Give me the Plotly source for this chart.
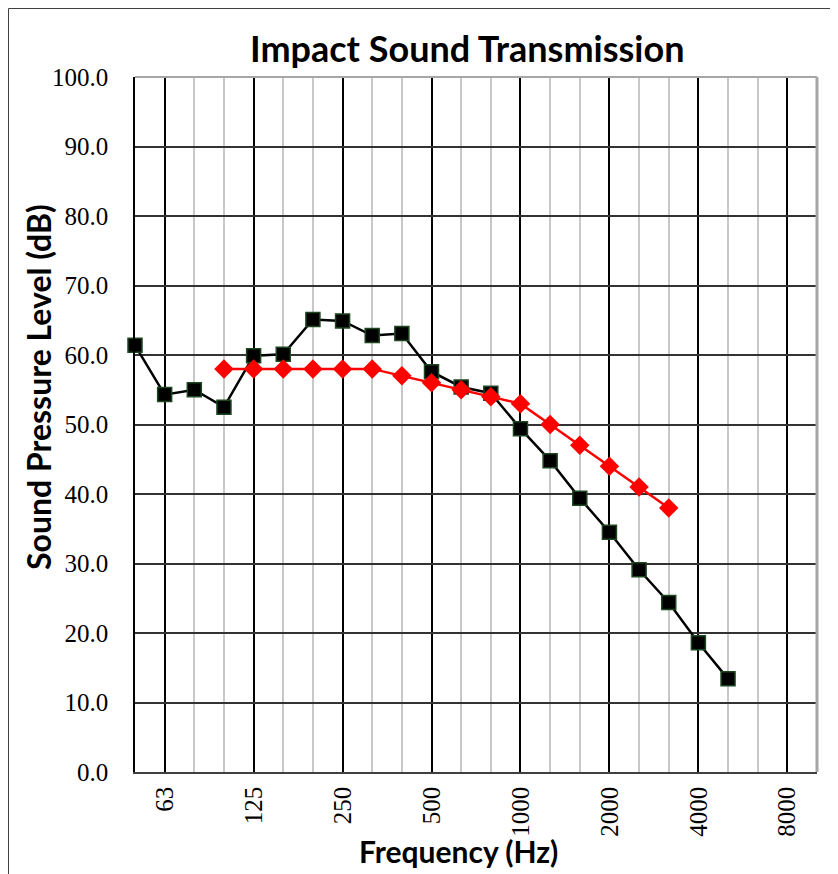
import plotly.graph_objects as go

# One-third octave band centre frequencies (category axis)
bands = ["50", "63", "80", "100", "125", "160", "200", "250", "315", "400",
         "500", "630", "800", "1000", "1250", "1600", "2000", "2500", "3150",
         "4000", "5000", "6300", "8000", "10000"]
octave_labels = ["63", "125", "250", "500", "1000", "2000", "4000", "8000"]

# Measured impact sound pressure level
measured_freq = ["50", "63", "80", "100", "125", "160", "200", "250", "315",
                 "400", "500", "630", "800", "1000", "1250", "1600", "2000",
                 "2500", "3150", "4000", "5000"]
measured_db = [61.4, 54.3, 55.0, 52.5, 59.9, 60.1, 65.1, 64.9, 62.8, 63.1,
               57.6, 55.4, 54.5, 49.4, 44.8, 39.4, 34.5, 29.1, 24.4, 18.6, 13.4]

# Shifted reference curve
ref_freq = ["100", "125", "160", "200", "250", "315", "400", "500", "630",
            "800", "1000", "1250", "1600", "2000", "2500", "3150"]
ref_db = [58, 58, 58, 58, 58, 58, 57, 56, 55, 54, 53, 50, 47, 44, 41, 38]

idx = {b: i for i, b in enumerate(bands)}

# page body has an 8px margin: work in figure pixels (screen - 8)
OFF = 8
W, H = 830, 866
L, R, T, B = 135 - OFF, 817 - OFF, 77 - OFF, 772 - OFF
pw, ph = R - L, B - T


def px(x):
    return (x - OFF - L) / pw


def py(y):
    return (B - (y - OFF)) / ph


fig = go.Figure()
fig.add_trace(go.Scatter(
    x=[idx[f] for f in measured_freq], y=measured_db, mode="lines+markers",
    line=dict(color="black", width=2.5),
    marker=dict(symbol="square", size=14, color="black",
                line=dict(color="#1e4620", width=1.5)),
    cliponaxis=False, showlegend=False, name="Measured"))
fig.add_trace(go.Scatter(
    x=[idx[f] for f in ref_freq], y=ref_db, mode="lines+markers",
    line=dict(color="#ff0000", width=2.5),
    marker=dict(symbol="diamond", size=15, color="#ff0000"),
    cliponaxis=False, showlegend=False, name="Reference"))

title_font = dict(family="Lato", size=36, color="black", weight="bold")
ytitle_font = dict(family="Lato", size=32, color="black", weight="bold")
xtitle_font = dict(family="Lato", size=30, color="black", weight="bold")
tick_font = dict(family="Liberation Serif", size=25, color="black")

fig.update_layout(
    width=W, height=H,
    margin=dict(l=L, r=W - R, t=T, b=H - B, pad=0),
    paper_bgcolor="white", plot_bgcolor="white",
    xaxis=dict(
        range=[0, len(bands) - 1],
        tickmode="array",
        tickvals=[idx[o] for o in octave_labels],
        ticktext=octave_labels,
        tickangle=-90, tickfont=tick_font, ticks="", ticklabelstandoff=3,
        showgrid=True, gridcolor="black", gridwidth=2,
        minor=dict(tickmode="linear", tick0=0, dtick=1, showgrid=True,
                   gridcolor="#c8c8c8", gridwidth=1.5),
        showline=True, linecolor="#404040", linewidth=1.5,
        zeroline=False, fixedrange=True,
    ),
    yaxis=dict(
        range=[0, 100], tickmode="linear", tick0=0, dtick=10,
        tickformat=".1f", tickfont=tick_font, ticks="", ticklabelstandoff=20,
        showgrid=True, gridcolor="#333333", gridwidth=1.5,
        showline=True, linecolor="black", linewidth=1.5,
        zeroline=False, fixedrange=True,
    ),
    annotations=[
        dict(text="Impact Sound Transmission", xref="paper", yref="paper",
             x=px(467), y=py(48), xanchor="center", yanchor="middle",
             showarrow=False, font=title_font),
        dict(text="Sound Pressure Level (dB)", xref="paper", yref="paper",
             x=px(38), y=py(387), xanchor="center", yanchor="middle",
             textangle=-90, showarrow=False, font=ytitle_font),
        dict(text="Frequency (Hz)", xref="paper", yref="paper",
             x=px(458), y=py(851), xanchor="center", yanchor="middle",
             showarrow=False, font=xtitle_font),
    ],
    shapes=[
        # plot area border
        dict(type="line", xref="paper", yref="paper", x0=0, x1=1, y0=1, y1=1,
             line=dict(color="#a6a6a6", width=2), layer="above"),
        dict(type="line", xref="paper", yref="paper", x0=1, x1=1, y0=0, y1=1,
             line=dict(color="#a6a6a6", width=3), layer="above"),
        # chart outer border
        dict(type="line", xref="paper", yref="paper", x0=px(8.5), x1=px(8.5),
             y0=py(8.5), y1=py(H + 20), line=dict(color="#404040", width=1)),
        dict(type="line", xref="paper", yref="paper", x0=px(8.5), x1=px(W + 20),
             y0=py(8.5), y1=py(8.5), line=dict(color="#404040", width=1)),
    ],
)

fig.write_html("out.html")
